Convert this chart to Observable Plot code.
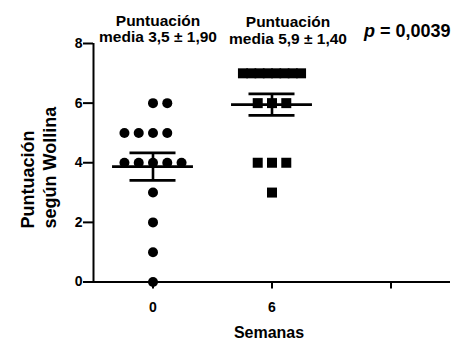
<!DOCTYPE html>
<html>
<head>
<meta charset="utf-8">
<script src="https://cdn.jsdelivr.net/npm/d3@7"></script>
<script src="https://cdn.jsdelivr.net/npm/@observablehq/plot@0.6"></script>
<style>
  html, body { margin: 0; padding: 0; background: #fff; }
</style>
</head>
<body>
<div id="chart"></div>
<script>
// ---- data ----
const weeks = [0, 6];
const week0Scores = [6, 6, 5, 5, 5, 5, 4, 4, 4, 4, 4, 3, 2, 1, 0];
const week6Scores = [7, 7, 7, 7, 7, 7, 7, 7, 6, 6, 6, 4, 4, 4, 3];
const means = [3.87, 5.95];
const sems = [0.46, 0.36];
const xTicks = [0, 6, 12];
const xTickLabels = ["0", "6", ""];
const yTicks = [0, 2, 4, 6, 8];
const groupTitles = ["Puntuación\nmedia 3,5 ± 1,90", "Puntuación\nmedia 5,9 ± 1,40"];
const pLabel = "p = 0,0039";
const xLabel = "Semanas";
const yLabel = "Puntuación\nsegún Wollina";

// ---- layout helpers (scatter arrangement within each column) ----
const slotSpacing = 0.72;   // weeks between neighbouring symbols
const maxSpan = 2.93;       // widest a row may spread (weeks)
const slotOrder = [0, 1, -1, -2, 2, 3, -3, 4, -4];
function arrange(week, scores, symbol) {
  const byVal = d3.group(scores, v => v);
  const out = [];
  for (const [v, arr] of byVal) {
    const n = arr.length;
    if ((n - 1) * slotSpacing > maxSpan) {
      const s = maxSpan / (n - 1);
      arr.forEach((_, i) => out.push({x: week + (i - (n - 1) / 2) * s, y: v, symbol}));
    } else {
      arr.forEach((_, i) => out.push({x: week + slotOrder[i] * slotSpacing, y: v, symbol}));
    }
  }
  return out;
}
const pts0 = arrange(weeks[0], week0Scores, "circle");
const pts6 = arrange(weeks[1], week6Scores, "square");
const stats = weeks.map((w, i) => ({week: w, mean: means[i], sem: sems[i]}));
const meanHalf = 2.04, capHalf = 1.16;

const font = "'Liberation Sans', Arial, Helvetica, sans-serif";

const chart = Plot.plot({
  width: 471,
  height: 340,
  marginLeft: 93,
  marginRight: 21,
  marginTop: 43,
  marginBottom: 58.5,
  style: {fontFamily: font, background: "#fff", color: "#000"},
  x: {domain: [-3, 15]},
  y: {domain: [0, 8]},
  marks: [
    Plot.axisY({ticks: yTicks, tickSize: 10, tickPadding: 1, fontSize: 14, fontWeight: "bold", strokeWidth: 2, label: null}),
    Plot.axisX({ticks: xTicks, tickFormat: (d, i) => xTickLabels[xTicks.indexOf(d)], tickSize: 7, tickPadding: 13, fontSize: 14, fontWeight: "bold", strokeWidth: 2, label: null}),
    Plot.ruleX([-3], {y1: 0, y2: 8, strokeWidth: 2}),
    Plot.ruleY([0], {x1: -3, x2: 15, strokeWidth: 2}),
    Plot.dot(pts0, {x: "x", y: "y", r: 5, fill: "#000", symbol: "circle"}),
    Plot.dot(pts6, {x: "x", y: "y", r: 5.64, fill: "#000", symbol: "square"}),
    // mean line
    Plot.ruleY(stats, {y: "mean", x1: d => d.week - meanHalf, x2: d => d.week + meanHalf, strokeWidth: 2.6}),
    // SEM whisker
    Plot.ruleX(stats, {x: "week", y1: d => d.mean - d.sem, y2: d => d.mean + d.sem, strokeWidth: 2.6}),
    Plot.ruleY(stats, {y: d => d.mean + d.sem, x1: d => d.week - capHalf, x2: d => d.week + capHalf, strokeWidth: 2.8}),
    Plot.ruleY(stats, {y: d => d.mean - d.sem, x1: d => d.week - capHalf, x2: d => d.week + capHalf, strokeWidth: 2.8}),
    // group titles
    Plot.text([groupTitles[0]], {x: weeks[0], text: d => d, frameAnchor: "top", lineAnchor: "top", dx: 5, dy: -29.7, fontSize: 15.5, fontWeight: "bold", lineHeight: 1.08}),
    Plot.text([groupTitles[1]], {x: weeks[1], text: d => d, frameAnchor: "top", lineAnchor: "top", dx: 16, dy: -28, fontSize: 15.5, fontWeight: "bold", lineHeight: 1.08}),
    // p value
    Plot.text([pLabel], {text: d => d, frameAnchor: "top-right", textAnchor: "end", lineAnchor: "top", dy: -19, fontSize: 18, fontWeight: "bold"}),
    // axis titles
    Plot.text([xLabel], {text: d => d, frameAnchor: "bottom", lineAnchor: "top", dx: -3, dy: 45, fontSize: 16, fontWeight: "bold"}),
    Plot.text([yLabel], {text: d => d, frameAnchor: "bottom-left", textAnchor: "start", rotate: -90, dx: -37.5, dy: -53.5, fontSize: 18, fontWeight: "bold", lineHeight: 1.22})
  ]
});

// italic "p"
d3.select(chart).selectAll("text").filter(function() { return this.textContent === pLabel; }).each(function() {
  const t = d3.select(this);
  t.text(null);
  t.append("tspan").attr("font-style", "italic").text(pLabel.slice(0, 1));
  t.append("tspan").text(pLabel.slice(1));
});

document.getElementById("chart").appendChild(chart);
</script>
</body>
</html>
